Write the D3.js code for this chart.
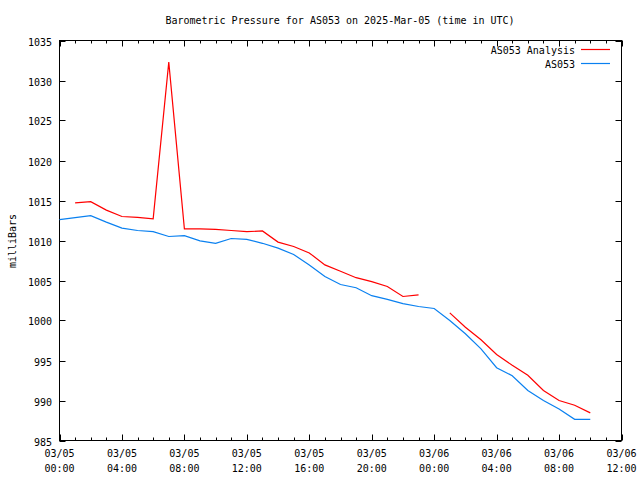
<!DOCTYPE html>
<html><head><meta charset="utf-8">
<script src="https://cdn.jsdelivr.net/npm/d3@7"></script>
<style>body{margin:0;background:#fff}text{font-family:"DejaVu Sans Mono",monospace;font-size:10px;fill:#000}</style>
</head><body>
<svg id="c" width="640" height="480"></svg>
<script>
const title = "Barometric Pressure for AS053 on 2025-Mar-05 (time in UTC)";
const yLabel = "milliBars";
const seriesNames = ["AS053 Analysis", "AS053"];
const seriesColors = ["#ff0000", "#0a80f0"];
// hours after 2025-03-05 00:00 UTC
const hours = [0,1,2,3,4,5,6,7,8,9,10,11,12,13,14,15,16,17,18,19,20,21,22,23,24,25,26,27,28,29,30,31,32,33,34];
const analysis = [null,1014.7,1014.85,1013.8,1013.0,1012.9,1012.7,1032.3,1011.45,1011.45,1011.4,1011.25,1011.1,1011.2,1009.8,1009.25,1008.45,1006.95,1006.15,1005.35,1004.85,1004.25,1003.0,1003.2,null,1000.95,999.15,997.6,995.75,994.4,993.15,991.25,990.0,989.4,988.45];
const obs = [1012.6,1012.85,1013.1,1012.3,1011.55,1011.25,1011.1,1010.5,1010.6,1009.95,1009.65,1010.25,1010.15,1009.65,1009.05,1008.25,1006.95,1005.5,1004.5,1004.1,1003.1,1002.65,1002.1,1001.75,1001.5,1000.0,998.35,996.45,994.1,993.1,991.25,990.0,988.95,987.65,987.65];
const xTickHours = [0,4,8,12,16,20,24,28,32,36];
const xTickLabels = [["03/05","00:00"],["03/05","04:00"],["03/05","08:00"],["03/05","12:00"],["03/05","16:00"],["03/05","20:00"],["03/06","00:00"],["03/06","04:00"],["03/06","08:00"],["03/06","12:00"]];
const yTicks = [985,990,995,1000,1005,1010,1015,1020,1025,1030,1035];

const start = Date.UTC(2025,2,5,0,0);
const toDate = h => new Date(start + h*3600000);
const L=59.5, R=621.5, T=40.5, B=440.5;
const svg = d3.select("#c");
const x = d3.scaleUtc().domain([toDate(0), toDate(36)]).range([L,R]);
const y = d3.scaleLinear().domain([985,1035]).range([B,T]);

// frame
svg.append("rect").attr("x",L).attr("y",T).attr("width",R-L).attr("height",B-T)
  .attr("fill","none").attr("stroke","#000").attr("stroke-width",1);

// x ticks (hourly minor, 4-hourly major), mirrored
const minor = d3.range(0,37);
const g = svg.append("g").attr("stroke","#000").attr("stroke-width",1);
minor.forEach(h=>{
  const xx = Math.round(x(toDate(h)))+0.5;
  const len = (h%4===0)?6:3;
  g.append("line").attr("x1",xx).attr("x2",xx).attr("y1",B).attr("y2",B-len);
  g.append("line").attr("x1",xx).attr("x2",xx).attr("y1",T).attr("y2",T+len);
});
yTicks.forEach(v=>{
  const yy = Math.round(y(v))+0.5;
  g.append("line").attr("x1",L).attr("x2",L+6).attr("y1",yy).attr("y2",yy);
  g.append("line").attr("x1",R).attr("x2",R-6).attr("y1",yy).attr("y2",yy);
  svg.append("text").attr("x",52).attr("y",yy+4).attr("text-anchor","end").text(v);
});
xTickHours.forEach((h,i)=>{
  const xx = x(toDate(h));
  svg.append("text").attr("x",xx).attr("y",457).attr("text-anchor","middle").text(xTickLabels[i][0]);
  svg.append("text").attr("x",xx).attr("y",472).attr("text-anchor","middle").text(xTickLabels[i][1]);
});

// title and axis label
svg.append("text").attr("x",340).attr("y",24).attr("text-anchor","middle").text(title);
svg.append("text").attr("transform","translate(16,241) rotate(-90)").attr("text-anchor","middle").text(yLabel);

// lines
const line = d3.line().defined(d=>d[1]!==null).x(d=>x(toDate(d[0]))).y(d=>y(d[1]));
[analysis, obs].forEach((s,i)=>{
  svg.append("path").datum(hours.map((h,j)=>[h,s[j]]))
    .attr("d",line).attr("fill","none").attr("stroke",seriesColors[i]).attr("stroke-width",1.2);
});

// legend
seriesNames.forEach((n,i)=>{
  const yy = 49.5 + i*14;
  svg.append("text").attr("x",575).attr("y",yy+4).attr("text-anchor","end").text(n);
  svg.append("line").attr("x1",581).attr("x2",610).attr("y1",yy).attr("y2",yy)
    .attr("stroke",seriesColors[i]).attr("stroke-width",1.2);
});
</script>
</body></html>
